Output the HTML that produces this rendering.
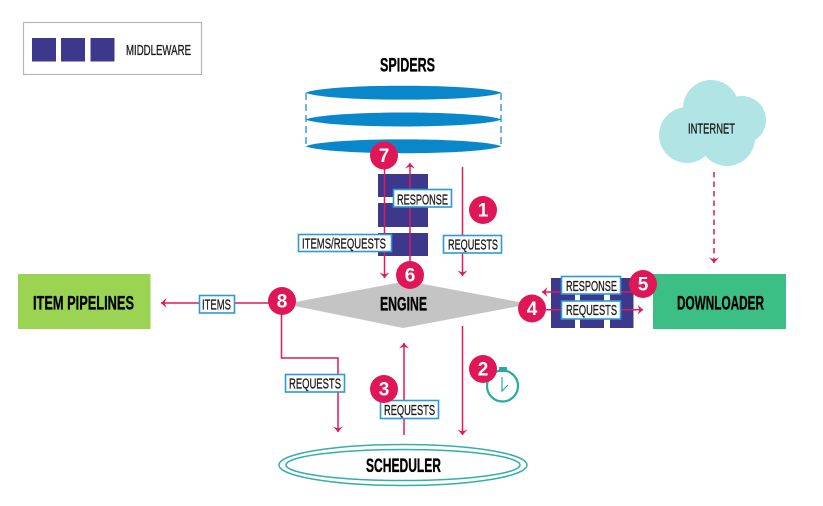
<!DOCTYPE html>
<html lang="en">
<head>
<meta charset="utf-8">
<title>Scrapy architecture</title>
<style>
html,body{margin:0;padding:0;background:#fff}
svg{display:block;filter:blur(.3px)}
text{font-family:"Liberation Sans Narrow","Liberation Sans",sans-serif;fill:#1a1a1a}
.h{font-size:19.500px;font-weight:bold;fill:#000;stroke:#000;stroke-width:.35}
.l{font-size:14.500px;stroke:#1a1a1a;stroke-width:.3}
.n{font-family:"Liberation Sans",sans-serif;font-size:19px;font-weight:bold;fill:#fff;text-anchor:middle}
.box{fill:#fff;stroke:#2a9ad8;stroke-width:1.6}
.ln{fill:none;stroke:#e0195a;stroke-width:1.5;marker-end:url(#a)}
.mw{fill:#3d388b}
.c{fill:#df1757}
.sp{fill:#0a87ca}
</style>
</head>
<body>
<svg width="823" height="506" viewBox="0 0 823 506" xmlns="http://www.w3.org/2000/svg">
<defs>
<marker id="a" markerUnits="userSpaceOnUse" viewBox="-8 -6 9 12" refX="0" refY="0" markerWidth="9" markerHeight="12" orient="auto">
<path d="M0 0L-5.500 -5L-3.500 0L-5.500 5Z" fill="#e0195a"/>
</marker>
</defs>
<rect x="23.500" y="22.500" width="178" height="52" fill="#fff" stroke="#b5b5b5" stroke-width="1.200"/>
<rect class="mw" x="32" y="38" width="24" height="23.500"/>
<rect class="mw" x="61" y="38" width="24" height="23.500"/>
<rect class="mw" x="90.500" y="38" width="24" height="23.500"/>
<text class="l" x="126" y="55" textLength="65" lengthAdjust="spacingAndGlyphs">MIDDLEWARE</text>
<text class="h" x="380" y="71.500" textLength="55" lengthAdjust="spacingAndGlyphs">SPIDERS</text>
<path d="M306 93V146M501 93V146" stroke="#0a87ca" stroke-width="1.200" stroke-dasharray="7 4" fill="none"/>
<path class="sp" d="M305.500 92.700C328 83.400 479 83.400 501.500 92.700C479 102 328 102 305.500 92.700Z"/>
<path class="sp" d="M305.500 119.500C328 110.200 479 110.200 501.500 119.500C479 128.800 328 128.800 305.500 119.500Z"/>
<path class="sp" d="M305.500 146.300C328 137 479 137 501.500 146.300C479 155.600 328 155.600 305.500 146.300Z"/>
<g fill="#b1e4e5">
<circle cx="687" cy="135" r="28"/>
<circle cx="711" cy="108" r="28"/>
<circle cx="742" cy="120" r="24"/>
<circle cx="727" cy="138" r="28"/>
</g>
<text class="l" x="688" y="133.500" textLength="47" lengthAdjust="spacingAndGlyphs">INTERNET</text>
<path d="M714 172V263" fill="none" stroke="#e0195a" stroke-width="1.500" stroke-dasharray="5.500 4" marker-end="url(#a)"/>
<rect x="18" y="274" width="132.500" height="55" fill="#9bd452"/>
<text class="h" x="33" y="309.500" textLength="101" lengthAdjust="spacingAndGlyphs">ITEM PIPELINES</text>
<rect x="653" y="274" width="133" height="55" fill="#3bbf85"/>
<text class="h" x="677" y="309.500" textLength="87" lengthAdjust="spacingAndGlyphs">DOWNLOADER</text>
<polygon points="285,304 407,281 530,304 403,328" fill="#c4c4c4"/>
<text class="h" x="380" y="310.500" textLength="47" lengthAdjust="spacingAndGlyphs">ENGINE</text>
<rect class="mw" x="378" y="174" width="50" height="23"/>
<rect class="mw" x="378" y="203" width="50" height="24"/>
<rect class="mw" x="378" y="233" width="50" height="23"/>
<rect class="mw" x="551" y="278" width="24" height="50"/>
<rect class="mw" x="580" y="278" width="24" height="50"/>
<rect class="mw" x="610" y="278" width="23.500" height="50"/>
<ellipse cx="403" cy="465" rx="124" ry="20.500" fill="none" stroke="#35aea8" stroke-width="1.500"/>
<ellipse cx="403" cy="465" rx="117" ry="15.500" fill="none" stroke="#35aea8" stroke-width="1.500"/>
<text class="h" x="366" y="472" textLength="75" lengthAdjust="spacingAndGlyphs">SCHEDULER</text>
<path class="ln" d="M384.500 155V278"/>
<path class="ln" d="M410 275V163"/>
<path class="ln" d="M462.500 167V276"/>
<path class="ln" d="M462.500 326V435"/>
<path class="ln" d="M404 435V343"/>
<path class="ln" d="M281.500 301V358H338V432"/>
<path class="ln" d="M282 303H161"/>
<path class="ln" d="M532 309.700H643"/>
<path class="ln" d="M643 292H542"/>
<rect class="box" x="393.500" y="189.500" width="58" height="17.500"/>
<text class="l" x="397" y="204.500" textLength="51" lengthAdjust="spacingAndGlyphs">RESPONSE</text>
<rect class="box" x="298.500" y="234.500" width="93" height="17"/>
<text class="l" x="302" y="248.500" textLength="84" lengthAdjust="spacingAndGlyphs">ITEMS/REQUESTS</text>
<rect class="box" x="443.500" y="235.500" width="58" height="17.500"/>
<text class="l" x="448" y="249.500" textLength="50" lengthAdjust="spacingAndGlyphs">REQUESTS</text>
<rect class="box" x="561.500" y="276.500" width="59" height="17.500"/>
<text class="l" x="566" y="291" textLength="51" lengthAdjust="spacingAndGlyphs">RESPONSE</text>
<rect class="box" x="561.500" y="301" width="59" height="18"/>
<text class="l" x="566" y="315" textLength="51" lengthAdjust="spacingAndGlyphs">REQUESTS</text>
<rect class="box" x="199.500" y="295.500" width="35" height="17.500"/>
<text class="l" x="202" y="309.500" textLength="29" lengthAdjust="spacingAndGlyphs">ITEMS</text>
<rect class="box" x="285.500" y="374.500" width="59" height="17.500"/>
<text class="l" x="289" y="388.500" textLength="52" lengthAdjust="spacingAndGlyphs">REQUESTS</text>
<rect class="box" x="380.500" y="400.500" width="58" height="18"/>
<text class="l" x="384" y="415" textLength="51" lengthAdjust="spacingAndGlyphs">REQUESTS</text>
<circle cx="502.500" cy="386" r="15.500" fill="none" stroke="#2aa9a3" stroke-width="2.200"/>
<rect x="499" y="367" width="8" height="5" fill="#2aa9a3"/>
<path d="M502 377V391L508 385" fill="none" stroke="#2aa9a3" stroke-width="1.200"/>
<circle class="c" cx="483" cy="210" r="14"/><text class="n" x="483" y="216.500">1</text>
<circle class="c" cx="483" cy="369" r="14"/><text class="n" x="483" y="375.500">2</text>
<circle class="c" cx="384" cy="389" r="14"/><text class="n" x="384" y="395.500">3</text>
<circle class="c" cx="532" cy="308.500" r="14"/><text class="n" x="532" y="315">4</text>
<circle class="c" cx="643" cy="284" r="14"/><text class="n" x="643" y="290.500">5</text>
<circle class="c" cx="410" cy="275" r="14"/><text class="n" x="410" y="281.500">6</text>
<circle class="c" cx="384" cy="155.500" r="14"/><text class="n" x="384" y="162">7</text>
<circle class="c" cx="282" cy="301" r="14"/><text class="n" x="282" y="307.500">8</text>
</svg>
</body>
</html>
